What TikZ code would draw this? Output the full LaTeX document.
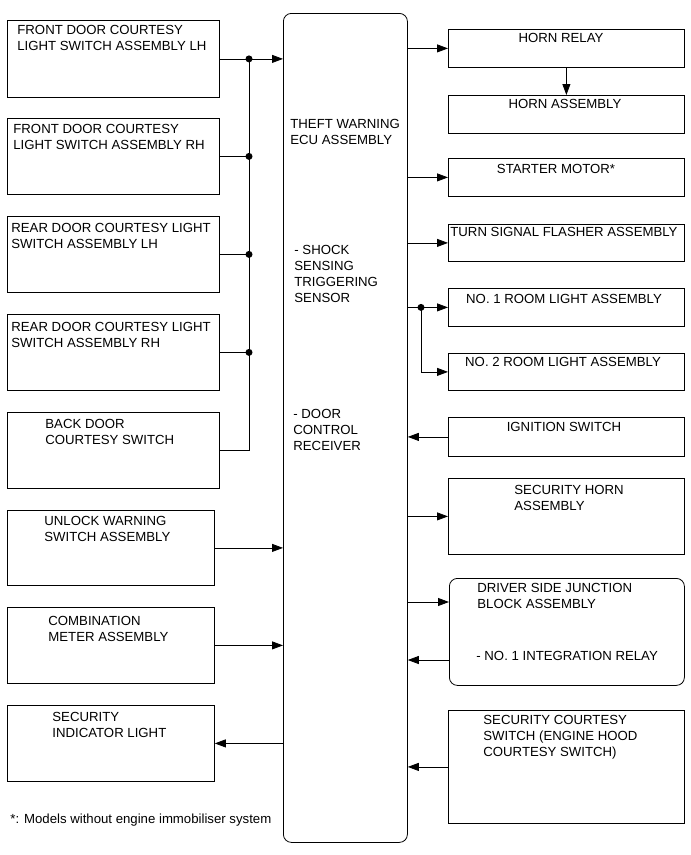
\documentclass[tikz,border=0pt]{standalone}
\usepackage{fontspec}
\setmainfont{Liberation Sans}
\usetikzlibrary{arrows.meta}

\tikzset{
	kasten/.style={draw, anchor=north west, inner sep=0pt},
	beschr/.style={anchor=north west, inner sep=0pt, align=left, font=\fontsize{13.2}{16}\selectfont},
	mbeschr/.style={anchor=north, inner sep=0pt, align=center, font=\fontsize{13.2}{16}\selectfont},
	pfeil/.style={-{Triangle[length=11pt,width=8pt]}},
	punkt/.style={circle, fill, inner sep=0pt, minimum size=7pt}
}

\begin{document}
\begin{tikzpicture}[x=1pt, y=-1pt, line width=0.8pt]
		
		\useasboundingbox (0,0) rectangle (691,855);
		
		% Steuergeraet in der Mitte
		\node[kasten, rounded corners=8pt, minimum width=124pt, minimum height=829pt] (ecu) at (283,13) {};
		\node[beschr] (ecu-t1) at (290,119) {THEFT WARNING\\ECU ASSEMBLY};
		\node[beschr] (ecu-t2) at (294,245) {- SHOCK\\SENSING\\TRIGGERING\\SENSOR};
		\node[beschr] (ecu-t3) at (293,409) {- DOOR\\CONTROL\\RECEIVER};
		
		% Kaesten links
		\node[kasten, minimum width=212pt, minimum height=77pt] (fdlh) at (7,20) {};
		\node[kasten, minimum width=212pt, minimum height=76pt] (fdrh) at (7,118) {};
		\node[kasten, minimum width=212pt, minimum height=76pt] (rdlh) at (7,216) {};
		\node[kasten, minimum width=212pt, minimum height=76pt] (rdrh) at (7,314) {};
		\node[kasten, minimum width=212pt, minimum height=76pt] (bdcs) at (7,412) {};
		\node[kasten, minimum width=207pt, minimum height=75pt] (unlock) at (7,510) {};
		\node[kasten, minimum width=207pt, minimum height=76pt] (comb) at (7,607) {};
		\node[kasten, minimum width=207pt, minimum height=76pt] (secind) at (7,705) {};
		
		% Beschriftung links
		\node[beschr] (fdlh-t) at (17,25) {FRONT DOOR COURTESY\\LIGHT SWITCH ASSEMBLY LH};
		\node[beschr] (fdrh-t) at (13,124) {FRONT DOOR COURTESY\\LIGHT SWITCH ASSEMBLY RH};
		\node[beschr] (rdlh-t) at (11,223) {REAR DOOR COURTESY LIGHT\\SWITCH ASSEMBLY LH};
		\node[beschr] (rdrh-t) at (11,322) {REAR DOOR COURTESY LIGHT\\SWITCH ASSEMBLY RH};
		\node[beschr] (bdcs-t) at (45,419) {BACK DOOR\\COURTESY SWITCH};
		\node[beschr] (unlock-t) at (44,516) {UNLOCK WARNING\\SWITCH ASSEMBLY};
		\node[beschr] (comb-t) at (48,616) {COMBINATION\\METER ASSEMBLY};
		\node[beschr] (secind-t) at (52,712) {SECURITY\\INDICATOR LIGHT};
		\node[beschr] (fussnote) at (10,814) {*: Models without engine immobiliser system};
		
		% Kaesten rechts
		\node[kasten, minimum width=236pt, minimum height=38pt] (hr) at (448,29) {};
		\node[kasten, minimum width=236pt, minimum height=38pt] (ha) at (448,95) {};
		\node[kasten, minimum width=236pt, minimum height=38pt] (sm) at (448,158) {};
		\node[kasten, minimum width=236pt, minimum height=37pt] (tsf) at (448,224) {};
		\node[kasten, minimum width=236pt, minimum height=38pt] (rl1) at (448,288) {};
		\node[kasten, minimum width=236pt, minimum height=37pt] (rl2) at (448,353) {};
		\node[kasten, minimum width=236pt, minimum height=39pt] (ig) at (448,417) {};
		\node[kasten, minimum width=236pt, minimum height=76pt] (sh) at (448,478) {};
		\node[kasten, rounded corners=8pt, minimum width=235pt, minimum height=107pt] (djb) at (449,578) {};
		\node[kasten, minimum width=236pt, minimum height=113pt] (scs) at (448,710) {};
		
		% Beschriftung rechts
		\node[mbeschr] (hr-t) at (561,33) {HORN RELAY};
		\node[mbeschr] (ha-t) at (565,99) {HORN ASSEMBLY};
		\node[mbeschr] (sm-t) at (556,164) {STARTER MOTOR*};
		\node[beschr] (tsf-t) at (450,227) {TURN SIGNAL FLASHER ASSEMBLY};
		\node[mbeschr] (rl1-t) at (564,294) {NO. 1 ROOM LIGHT ASSEMBLY};
		\node[mbeschr] (rl2-t) at (563,357) {NO. 2 ROOM LIGHT ASSEMBLY};
		\node[mbeschr] (ig-t) at (564,422) {IGNITION SWITCH};
		\node[beschr] (sh-t) at (514,485) {SECURITY HORN\\ASSEMBLY};
		\node[beschr] (djb-t1) at (477,583) {DRIVER SIDE JUNCTION\\BLOCK ASSEMBLY};
		\node[beschr] (djb-t2) at (476,651) {- NO. 1 INTEGRATION RELAY};
		\node[beschr] (scs-t) at (483,715) {SECURITY COURTESY\\SWITCH (ENGINE HOOD\\COURTESY SWITCH)};
		
		% Sammelleitung Tuerschalter
		\coordinate (bus) at (249,0);
		\draw (fdlh.east) -- (fdlh.east -| bus) node[punkt] (p1) {};
		\draw (fdrh.east) -- (fdrh.east -| bus) node[punkt] (p2) {};
		\draw (rdlh.east) -- (rdlh.east -| bus) node[punkt] (p3) {};
		\draw (rdrh.east) -- (rdrh.east -| bus) node[punkt] (p4) {};
		\draw (p1.center) -- (bdcs.east -| bus) -- (bdcs.east);
		\draw[pfeil] (p1.center) -- (p1 -| ecu.west);
		
		% Leitungen links
		\draw[pfeil] (unlock.east) -- (unlock.east -| ecu.west);
		\draw[pfeil] (comb.east) -- (comb.east -| ecu.west);
		\draw[pfeil] (secind.east -| ecu.west) -- (secind.east);
		
		% Leitungen rechts
		\draw[pfeil] (hr.west -| ecu.east) -- (hr.west);
		\draw[pfeil] (hr.south) -- (ha.north);
		\draw[pfeil] (sm.west -| ecu.east) -- (sm.west);
		\draw[pfeil] (tsf.west -| ecu.east) -- (tsf.west);
		%
		\coordinate (rbus) at (421,0);
		\draw (rl1.west -| ecu.east) -- (rl1.west -| rbus) node[punkt] (p5) {};
		\draw[pfeil] (p5.center) -- (rl1.west);
		\draw[pfeil] (p5.center) |- (rl2.west);
		%
		\draw[pfeil] (ig.west) -- (ig.west -| ecu.east);
		\draw[pfeil] (sh.west -| ecu.east) -- (sh.west);
		\coordinate (djbein) at (449,602);
		\coordinate (djbaus) at (449,660);
		\draw[pfeil] (djbein -| ecu.east) -- (djbein);
		\draw[pfeil] (djbaus) -- (djbaus -| ecu.east);
		\draw[pfeil] (scs.west) -- (scs.west -| ecu.east);
		
	\end{tikzpicture}
\end{document}
